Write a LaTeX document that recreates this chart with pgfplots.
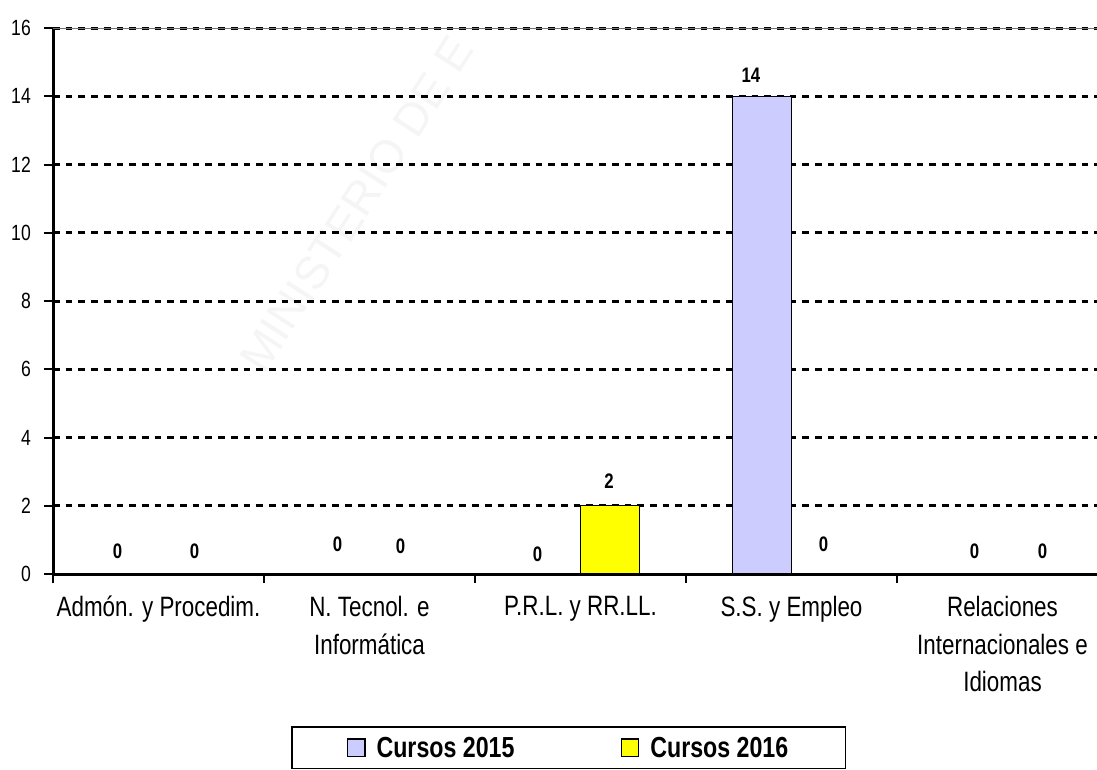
\documentclass[border=0pt]{standalone}
\usepackage{pgfplots}
\pgfplotsset{compat=1.18}
\usepackage{fontspec}
\setmainfont{Liberation Sans}[FakeStretch=0.8]
\newfontfamily\wmfont{Liberation Sans}
\definecolor{c15}{HTML}{CCCCFF}
\definecolor{c16}{HTML}{FFFF00}
\begin{document}
\begin{tikzpicture}[x=1pt,y=1pt]
\node[anchor=base west, rotate=57, inner sep=0pt, text=black!4, font=\wmfont\fontsize{46pt}{46pt}\selectfont] at (264,-376) {MINISTERIO DE E};
\begin{axis}[
  at={(53pt,-574pt)}, anchor=south west,
  scale only axis, width=1055pt, height=546pt,
  xmin=-0.5, xmax=4.5, ymin=0, ymax=16,
  axis lines=left, axis line style={-, line width=3pt, black},
  ytick={0,2,...,16},
  xtick={-0.5,0.5,1.5,2.5,3.5,4.5}, xticklabels={},
  extra x ticks={0,1,2,3,4},
  extra x tick labels={Admón. y Procedim., {N. Tecnol. e\\Informática}, P.R.L. y RR.LL., S.S. y Empleo, {Relaciones\\Internacionales e\\Idiomas}},
  extra x tick style={major tick length=0pt, tick style={draw=none}},
  tick align=outside, major tick length=9pt,
  tick style={black, line width=2pt},
  /pgf/number format/assume math mode=true,
  yticklabel style={font=\fontsize{22pt}{22pt}\selectfont, inner sep=0pt, xshift=-13pt},
  xticklabel style={font=\fontsize{28pt}{37.5pt}\selectfont, align=center, inner sep=0pt, yshift=-22pt},
  ymajorgrids, grid style={black, line width=3pt, dash pattern=on 6.7pt off 6pt},
  ybar, bar width=0.28,
  visualization depends on={value \coordindex \as \idx},
  nodes near coords,
  nodes near coords style={font=\fontsize{21pt}{21pt}\selectfont\bfseries, inner sep=0pt, anchor=south, black},
  legend columns=2,
  legend image code/.code={\draw[#1,/tikz/.cd,line width=1.3pt,draw=black] (0pt,-9pt) rectangle (17.5pt,8.5pt);},
  legend style={at={(0.2256,-0.2784)}, anchor=north west, draw=black, line width=1.5pt,
    font=\fontsize{29pt}{29pt}\selectfont\bfseries, inner xsep=55pt, inner ysep=8pt,
    /tikz/every odd column/.append style={column sep=9pt},
    /tikz/every even column/.append style={column sep=104pt}},
]
\addplot[fill=c15, draw=black, line width=1.3pt, bar shift=-0.14,
  every node near coord/.append style={xshift={{-11.5,-2.5,-13.5,-11,1.5}[\idx]*1pt}, yshift={{14.5,21.5,11.5,13.5,14.5}[\idx]*1pt}}]
  coordinates {(0,0) (1,0) (2,0) (3,14) (4,0)};
\addplot[fill=c16, draw=black, line width=1.3pt, bar shift=0.14,
  every node near coord/.append style={xshift={{6.5,1.5,-1,2.5,10.5}[\idx]*1pt}, yshift={{14.5,19.5,16.5,21.5,14.5}[\idx]*1pt}}]
  coordinates {(0,0) (1,0) (2,2) (3,0) (4,0)};
\legend{Cursos 2015, Cursos 2016}
\draw[black!55, line width=1pt] (rel axis cs:0,1) -- (rel axis cs:1,1);
\end{axis}
\pgfresetboundingbox
\path (0,0) rectangle (1097,-769);
\end{tikzpicture}
\end{document}
